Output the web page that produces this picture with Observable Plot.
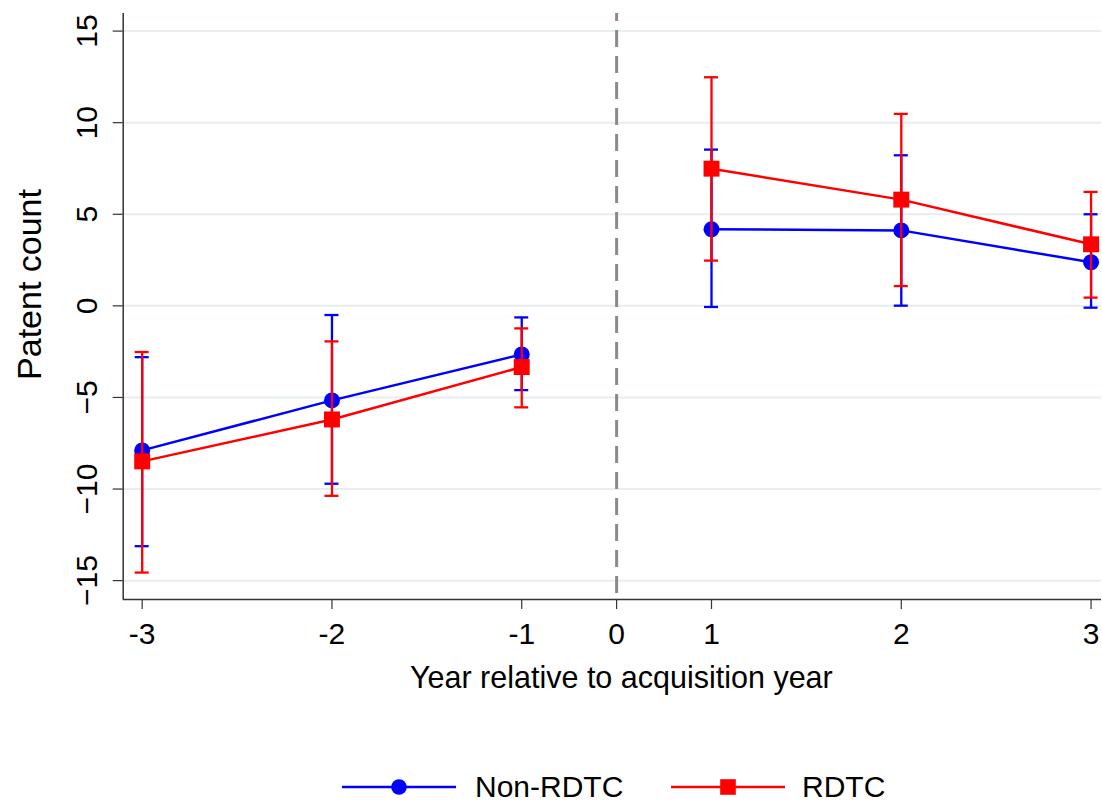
<!DOCTYPE html>
<html><head><meta charset="utf-8">
<script src="https://cdn.jsdelivr.net/npm/d3@7"></script>
<script src="https://cdn.jsdelivr.net/npm/@observablehq/plot@0.6"></script>
<style>
html,body{margin:0;padding:0;background:#fff;}
#wrap{position:relative;width:1102px;height:802px;font-family:"Liberation Sans",Arial,sans-serif;background:#fff;}
#wrap svg{display:block;}
#legend{position:absolute;left:0;top:745px;width:1102px;height:57px;}
.lbl{position:absolute;font-size:30px;line-height:30px;top:27px;color:#000;white-space:nowrap;}
</style></head><body><div id="wrap"></div>
<script>
// ---- data ----
const years = [-3, -2, -1, 1, 2, 3];
const nonRdtc   = [-7.89, -5.16, -2.65, 4.18, 4.12, 2.38];
const nonRdtcLo = [-13.12, -9.71, -4.60, -0.06, 0.01, -0.10];
const nonRdtcHi = [-2.80, -0.50, -0.63, 8.53, 8.22, 5.00];
const rdtc   = [-8.49, -6.20, -3.34, 7.49, 5.80, 3.36];
const rdtcLo = [-14.56, -10.37, -5.54, 2.47, 1.08, 0.45];
const rdtcHi = [-2.52, -1.94, -1.23, 12.48, 10.48, 6.22];
const xTickYears = [-3, -2, -1, 0, 1, 2, 3];
const yTicks = [-15, -10, -5, 0, 5, 10, 15];
const seriesNames = ["Non-RDTC", "RDTC"];
const seriesColors = ["#0000ff", "#ff0000"];
const xTitle = "Year relative to acquisition year";
const yTitle = "Patent count";

// axis layout: year 0 sits half-way between -1 and 1
const pos = yr => yr < 0 ? yr + 3 : yr > 0 ? yr + 2 : 2.5;
const xDomain = [-0.1, 5.055];
const yDomain = [-16.03, 15.96];

const rows = (v, lo, hi, s) => years.map((yr, i) => ({x: pos(yr), v: v[i], lo: lo[i], hi: hi[i], s}));
const blue = rows(nonRdtc, nonRdtcLo, nonRdtcHi, seriesNames[0]);
const red = rows(rdtc, rdtcLo, rdtcHi, seriesNames[1]);

const seriesMarks = (data, color, symbol, r) => [
  Plot.ruleX(data, {x: "x", y1: "lo", y2: "hi", stroke: color, strokeWidth: 2.3}),
  Plot.ruleY(data, {x1: "x", x2: "x", y: "lo", stroke: color, strokeWidth: 2.3, insetLeft: -7, insetRight: -7}),
  Plot.ruleY(data, {x1: "x", x2: "x", y: "hi", stroke: color, strokeWidth: 2.3, insetLeft: -7, insetRight: -7}),
  Plot.line(data.filter(d => d.x < 2.5), {x: "x", y: "v", stroke: color, strokeWidth: 2.5}),
  Plot.line(data.filter(d => d.x > 2.5), {x: "x", y: "v", stroke: color, strokeWidth: 2.5}),
  Plot.dot(data, {x: "x", y: "v", fill: color, stroke: "none", symbol, r})
];

const chart = Plot.plot({
  width: 1102, height: 745,
  marginLeft: 122.7, marginRight: 1, marginTop: 13, marginBottom: 146,
  x: {domain: xDomain},
  y: {domain: yDomain},
  style: {fontFamily: '"Liberation Sans", Arial, sans-serif', fontSize: "30px", color: "#000", background: "#fff", overflow: "visible"},
  marks: [
    Plot.ruleY(yTicks, {stroke: "#e6eef1", strokeWidth: 2}),
    Plot.ruleX([pos(0)], {stroke: "#8a8a8a", strokeWidth: 3, strokeDasharray: "17,9", strokeDashoffset: 9}),
    Plot.ruleX([xDomain[0]], {stroke: "#333", strokeWidth: 1.5}),
    Plot.ruleY([yDomain[0]], {stroke: "#333", strokeWidth: 1.5}),
    Plot.axisY({ticks: yTicks, tickSize: 10, tickPadding: 25.7, tickRotate: -90, textAnchor: "middle", lineAnchor: "middle",
      stroke: "#333", strokeWidth: 1.2, fill: "#000", fontSize: 30, label: null}),
    Plot.axisX({ticks: xTickYears.map(pos), tickFormat: d => String(xTickYears.find(yr => pos(yr) === d)),
      tickSize: 10, tickPadding: 12.7, stroke: "#333", strokeWidth: 1.2, fill: "#000", fontSize: 30, label: null}),
    Plot.text([yTitle], {text: d => d, frameAnchor: "left", textAnchor: "middle", lineAnchor: "middle", rotate: -90, dx: -93, dy: -22, fontSize: 34, fill: "#000"}),
    Plot.text([xTitle], {text: d => d, frameAnchor: "bottom", textAnchor: "middle", dx: 9, dy: 88, fontSize: 30.5, fill: "#000"}),
    ...seriesMarks(blue, seriesColors[0], "circle", 8),
    ...seriesMarks(red, seriesColors[1], "square", 9)
  ]
});

const wrap = document.getElementById("wrap");
wrap.appendChild(chart);

// legend below the chart
const legend = document.createElement("div");
legend.id = "legend";
const items = [
  {name: seriesNames[0], color: seriesColors[0], shape: "circle", left: 342, textLeft: 475},
  {name: seriesNames[1], color: seriesColors[1], shape: "square", left: 671, textLeft: 802}
];
for (const it of items) {
  const sw = document.createElementNS("http://www.w3.org/2000/svg", "svg");
  sw.setAttribute("width", 114); sw.setAttribute("height", 57);
  sw.style.position = "absolute"; sw.style.left = it.left + "px"; sw.style.top = "0px";
  const ln = document.createElementNS(sw.namespaceURI, "line");
  ln.setAttribute("x1", 0); ln.setAttribute("x2", 114); ln.setAttribute("y1", 42); ln.setAttribute("y2", 42);
  ln.setAttribute("stroke", it.color); ln.setAttribute("stroke-width", 2.5);
  sw.appendChild(ln);
  let m;
  if (it.shape === "circle") {
    m = document.createElementNS(sw.namespaceURI, "circle");
    m.setAttribute("cx", 57); m.setAttribute("cy", 42); m.setAttribute("r", 7.8);
  } else {
    m = document.createElementNS(sw.namespaceURI, "rect");
    m.setAttribute("x", 57 - 7.8); m.setAttribute("y", 42 - 7.8); m.setAttribute("width", 15.6); m.setAttribute("height", 15.6);
  }
  m.setAttribute("fill", it.color);
  sw.appendChild(m);
  legend.appendChild(sw);
  const t = document.createElement("div");
  t.className = "lbl"; t.textContent = it.name; t.style.left = it.textLeft + "px";
  legend.appendChild(t);
}
wrap.appendChild(legend);
</script>
</body></html>
